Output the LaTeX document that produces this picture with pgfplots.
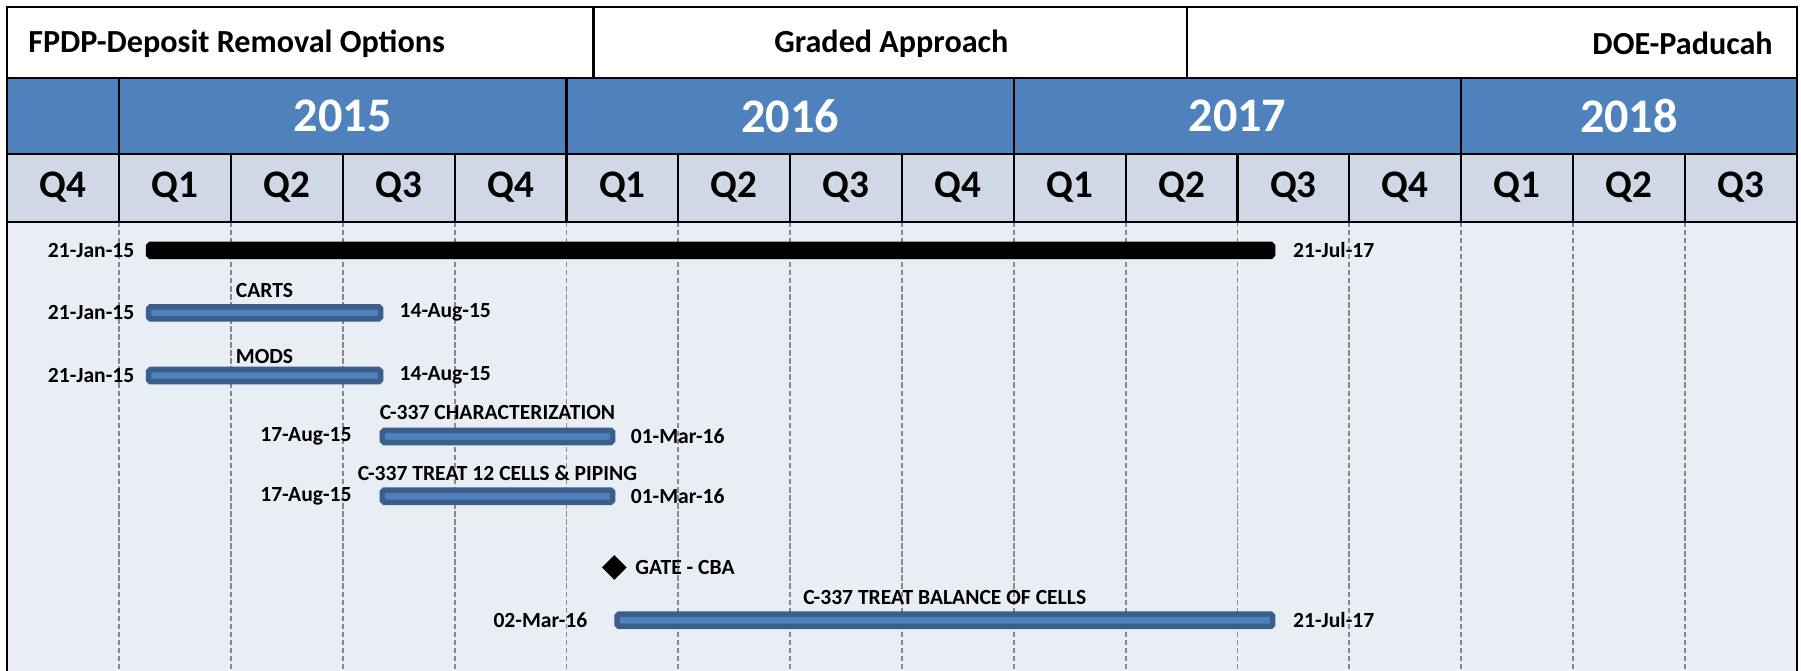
\documentclass[border=0pt]{standalone}
\usepackage{pgfplots}
\pgfplotsset{compat=1.18}
\usepackage{fontspec}
\setmainfont{Carlito}
\definecolor{hdrblue}{HTML}{4F81BD}
\definecolor{qrow}{HTML}{D0D8E8}
\definecolor{bodybg}{HTML}{E9EDF4}
\definecolor{barfill}{HTML}{4F81BD}
\definecolor{barline}{HTML}{3A5F8B}
\definecolor{dashgray}{HTML}{8A8A8A}
\begin{document}
\begin{tikzpicture}
\begin{axis}[
  scale only axis, width=778.9pt, height=288.8pt,
  xmin=-1, xmax=15, ymin=-584, ymax=-6.4,
  hide axis, clip=false,
]
% backgrounds
\fill[white] (axis cs:-1,-6.4) rectangle (axis cs:15,-68);
\fill[hdrblue] (axis cs:-1,-68) rectangle (axis cs:15,-134);
\fill[qrow] (axis cs:-1,-134) rectangle (axis cs:15,-193);
\fill[bodybg] (axis cs:-1,-193) rectangle (axis cs:15,-584);
% dashed grid
\pgfplotsinvokeforeach{0,...,14}{
  \draw[dashgray, line width=0.8pt, dash pattern=on 2.4pt off 1.1pt] (axis cs:#1,-193) -- (axis cs:#1,-584);
}
% header text
\tikzset{hd/.style={font=\fontsize{14}{16}\selectfont\bfseries, inner sep=0pt}}
\node[hd, anchor=west] at (axis cs:-0.817,-38) {FPDP-Deposit Removal Options};
\node[hd] at (axis cs:6.905,-38) {Graded Approach};
\node[hd, anchor=east] at (axis cs:14.79,-38) {DOE-Paducah};
\tikzset{yr/.style={white, font=\fontsize{21}{24}\selectfont\bfseries},
         qt/.style={font=\fontsize{17}{20}\selectfont\bfseries}}
\node[yr] at (axis cs:2,-101) {2015};
\node[yr] at (axis cs:6,-101) {2016};
\node[yr] at (axis cs:10,-101) {2017};
\node[yr] at (axis cs:13.5,-101) {2018};
\node[qt] at (axis cs:-0.5,-163) {Q4};
\node[qt] at (axis cs:0.5,-163) {Q1};
\node[qt] at (axis cs:1.5,-163) {Q2};
\node[qt] at (axis cs:2.5,-163) {Q3};
\node[qt] at (axis cs:3.5,-163) {Q4};
\node[qt] at (axis cs:4.5,-163) {Q1};
\node[qt] at (axis cs:5.5,-163) {Q2};
\node[qt] at (axis cs:6.5,-163) {Q3};
\node[qt] at (axis cs:7.5,-163) {Q4};
\node[qt] at (axis cs:8.5,-163) {Q1};
\node[qt] at (axis cs:9.5,-163) {Q2};
\node[qt] at (axis cs:10.5,-163) {Q3};
\node[qt] at (axis cs:11.5,-163) {Q4};
\node[qt] at (axis cs:12.5,-163) {Q1};
\node[qt] at (axis cs:13.5,-163) {Q2};
\node[qt] at (axis cs:14.5,-163) {Q3};
% borders
\draw[black, line width=1pt] (axis cs:-1,-584) -- (axis cs:-1,-6.4) -- (axis cs:15,-6.4) -- (axis cs:15,-584);
\draw[black, line width=1pt] (axis cs:-1,-68) -- (axis cs:15,-68);
\draw[black, line width=1pt] (axis cs:-1,-134) -- (axis cs:15,-134);
\draw[black, line width=1pt] (axis cs:-1,-193) -- (axis cs:15,-193);
\draw[black, line width=1pt] (axis cs:4.242,-6.4) -- (axis cs:4.242,-68);
\draw[black, line width=1pt] (axis cs:9.547,-6.4) -- (axis cs:9.547,-68);
\pgfplotsinvokeforeach{0,4,8,12}{
  \draw[black, line width=1pt] (axis cs:#1,-68) -- (axis cs:#1,-134);
}
\pgfplotsinvokeforeach{0,...,14}{
  \draw[black, line width=1pt] (axis cs:#1,-134) -- (axis cs:#1,-193);
}
% bars (path inset by half the border width)
\addplot[draw=black, fill=black, line width=2.4pt, rounded corners=0.8pt]
  coordinates {(0.263,-212.7) (10.314,-212.7) (10.314,-223.3) (0.263,-223.3)} -- cycle;
\addplot[draw=barline, fill=barfill, line width=2.4pt, rounded corners=0.8pt]
  coordinates {(0.263,-267.1) (2.338,-267.1) (2.338,-277.7) (0.263,-277.7)} -- cycle;
\addplot[draw=barline, fill=barfill, line width=2.4pt, rounded corners=0.8pt]
  coordinates {(0.263,-321.7) (2.338,-321.7) (2.338,-332.3) (0.263,-332.3)} -- cycle;
\addplot[draw=barline, fill=barfill, line width=2.4pt, rounded corners=0.8pt]
  coordinates {(2.354,-374.7) (4.412,-374.7) (4.412,-385.3) (2.354,-385.3)} -- cycle;
\addplot[draw=barline, fill=barfill, line width=2.4pt, rounded corners=0.8pt]
  coordinates {(2.354,-426.7) (4.412,-426.7) (4.412,-437.3) (2.354,-437.3)} -- cycle;
\addplot[draw=barline, fill=barfill, line width=2.4pt, rounded corners=0.8pt]
  coordinates {(4.452,-534.7) (10.314,-534.7) (10.314,-545.3) (4.452,-545.3)} -- cycle;
% milestone
\addplot[only marks, mark=square*, mark size=3.6pt, mark options={rotate=45, fill=black, draw=black}]
  coordinates {(4.427,-494)};
% labels
\tikzset{lbl/.style={font=\fontsize{9.4}{11}\selectfont\bfseries, inner sep=0pt}}
\node[lbl, anchor=east] at (axis cs:0.139,-218) {21-Jan-15};
\node[lbl, anchor=west] at (axis cs:10.494,-218) {21-Jul-17};
\node[lbl] at (axis cs:1.30,-253) {CARTS};
\node[lbl, anchor=east] at (axis cs:0.139,-272) {21-Jan-15};
\node[lbl, anchor=west] at (axis cs:2.504,-272) {14-Aug-15};
\node[lbl] at (axis cs:1.30,-310) {MODS};
\node[lbl, anchor=east] at (axis cs:0.139,-327) {21-Jan-15};
\node[lbl, anchor=west] at (axis cs:2.504,-327) {14-Aug-15};
\node[lbl] at (axis cs:3.383,-359) {C-337 CHARACTERIZATION};
\node[lbl, anchor=east] at (axis cs:2.082,-380) {17-Aug-15};
\node[lbl, anchor=west] at (axis cs:4.571,-380) {01-Mar-16};
\node[lbl] at (axis cs:3.383,-412) {C-337 TREAT 12 CELLS \& PIPING};
\node[lbl, anchor=east] at (axis cs:2.082,-432) {17-Aug-15};
\node[lbl, anchor=west] at (axis cs:4.571,-432) {01-Mar-16};
\node[lbl, anchor=west] at (axis cs:4.612,-494) {GATE - CBA};
\node[lbl] at (axis cs:7.383,-520) {C-337 TREAT BALANCE OF CELLS};
\node[lbl, anchor=east] at (axis cs:4.190,-540) {02-Mar-16};
\node[lbl, anchor=west] at (axis cs:10.494,-540) {21-Jul-17};
\coordinate (SW) at (axis cs:-1,-584);
\coordinate (NE) at (axis cs:15,-6.4);
\end{axis}
\pgfresetboundingbox
\path ([xshift=-3.2pt]SW) rectangle ([xshift=1.9pt,yshift=3.2pt]NE);
\end{tikzpicture}
\end{document}
